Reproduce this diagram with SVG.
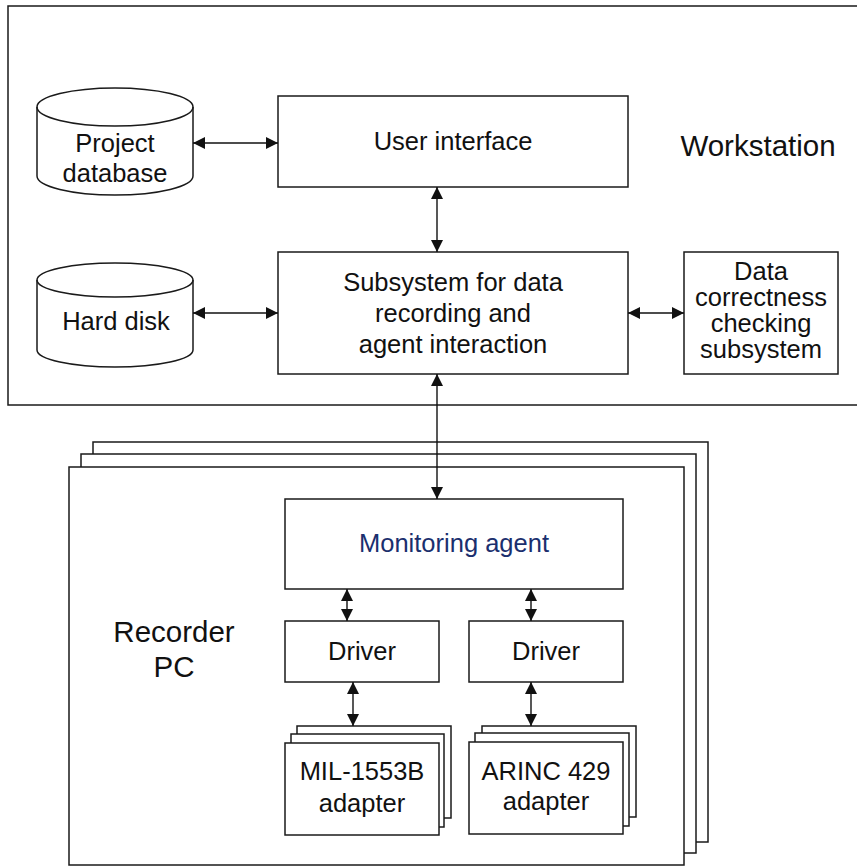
<svg xmlns="http://www.w3.org/2000/svg" width="857" height="867" viewBox="0 0 857 867">
  <style>
    .box { fill: #fff; stroke: #1a1a1a; stroke-width: 1.5; }
    .frame { fill: none; stroke: #1a1a1a; stroke-width: 1.5; }
    .lbl { font-family: "Liberation Sans", Arial, sans-serif; font-size: 25.5px; fill: #111; text-anchor: middle; }
    .big { font-size: 29.5px; }
    .blue { fill: #1b2f6e; }
    .link { fill: none; stroke: #111; stroke-width: 1.4; marker-start: url(#head); marker-end: url(#head); }
  </style>
  <defs>
    <marker id="head" viewBox="0 0 12 12" refX="12" refY="6" markerWidth="12" markerHeight="12" markerUnits="userSpaceOnUse" orient="auto-start-reverse">
      <path d="M0,0 L12,6 L0,12 Z" fill="#111"/>
    </marker>
  </defs>

  <!-- Workstation enclosure -->
  <g id="workstation">
    <rect class="frame" x="8" y="6" width="860" height="399"/>
    <text class="lbl big" x="758" y="156">Workstation</text>
  </g>

  <g id="project-db">
    <path class="box" d="M37,107 A78,19 0 0 1 193,107 L193,176 A78,19 0 0 1 37,176 Z"/>
    <path class="frame" d="M37,107 A78,19 0 0 0 193,107"/>
    <text class="lbl" x="115" y="152">Project</text>
    <text class="lbl" x="115" y="182">database</text>
  </g>

  <g id="hard-disk">
    <path class="box" d="M37,280 A78,17 0 0 1 193,280 L193,350 A78,17 0 0 1 37,350 Z"/>
    <path class="frame" d="M37,280 A78,17 0 0 0 193,280"/>
    <text class="lbl" x="116" y="330">Hard disk</text>
  </g>

  <g id="user-interface">
    <rect class="box" x="278" y="96" width="350" height="91"/>
    <text class="lbl" x="453" y="150">User interface</text>
  </g>

  <g id="recording-subsystem">
    <rect class="box" x="278" y="252" width="350" height="122"/>
    <text class="lbl" x="453" y="291">Subsystem for data</text>
    <text class="lbl" x="453" y="322">recording and</text>
    <text class="lbl" x="453" y="353">agent interaction</text>
  </g>

  <g id="checking-subsystem">
    <rect class="box" x="684" y="252" width="154" height="122"/>
    <text class="lbl" x="761" y="280">Data</text>
    <text class="lbl" x="761" y="306">correctness</text>
    <text class="lbl" x="761" y="332">checking</text>
    <text class="lbl" x="761" y="358">subsystem</text>
  </g>

  <!-- Recorder PC stack -->
  <g id="recorder-pc">
    <rect class="box" x="93" y="442" width="615" height="400"/>
    <rect class="box" x="81" y="454" width="615" height="399"/>
    <rect class="box" x="69" y="467" width="615" height="398"/>
    <text class="lbl big" x="174" y="642">Recorder</text>
    <text class="lbl big" x="174" y="677">PC</text>
  </g>

  <g id="monitoring-agent">
    <rect class="box" x="285" y="499" width="338" height="90"/>
    <text class="lbl blue" x="454" y="552">Monitoring agent</text>
  </g>

  <g id="driver-1">
    <rect class="box" x="285" y="621" width="154" height="61"/>
    <text class="lbl" x="362" y="660">Driver</text>
  </g>

  <g id="driver-2">
    <rect class="box" x="469" y="621" width="154" height="61"/>
    <text class="lbl" x="546" y="660">Driver</text>
  </g>

  <g id="mil-adapter">
    <rect class="box" x="297" y="726" width="154" height="92"/>
    <rect class="box" x="291" y="734" width="153" height="93"/>
    <rect class="box" x="285" y="743" width="154" height="92"/>
    <text class="lbl" x="362" y="780">MIL-1553B</text>
    <text class="lbl" x="362" y="812">adapter</text>
  </g>

  <g id="arinc-adapter">
    <rect class="box" x="482" y="726" width="154" height="91"/>
    <rect class="box" x="475" y="733" width="154" height="93"/>
    <rect class="box" x="469" y="742" width="154" height="92"/>
    <text class="lbl" x="546" y="780">ARINC 429</text>
    <text class="lbl" x="546" y="810">adapter</text>
  </g>

  <!-- Connectors -->
  <g id="connectors">
    <line class="link" x1="193" y1="143" x2="278" y2="143"/>
    <line class="link" x1="193" y1="313" x2="278" y2="313"/>
    <line class="link" x1="628" y1="313" x2="684" y2="313"/>
    <line class="link" x1="437" y1="187" x2="437" y2="252"/>
    <line class="link" x1="437" y1="374" x2="437" y2="499"/>
    <line class="link" x1="347" y1="589" x2="347" y2="621"/>
    <line class="link" x1="531" y1="589" x2="531" y2="621"/>
    <line class="link" x1="353" y1="682" x2="353" y2="726"/>
    <line class="link" x1="531" y1="682" x2="531" y2="726"/>
  </g>
</svg>
